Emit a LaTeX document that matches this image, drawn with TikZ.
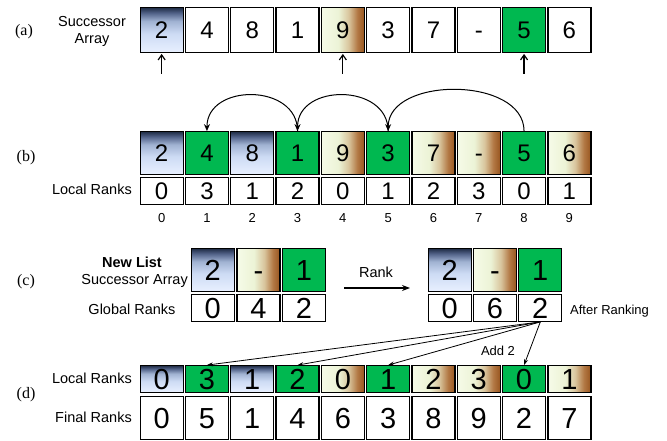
\documentclass[tikz,border=0pt]{standalone}
\usepackage{fontspec}
\setmainfont{Liberation Serif}
\newfontfamily\sansfont{Liberation Sans}
\usetikzlibrary{arrows.meta}

\definecolor{cellgreen}{HTML}{00B850}
\definecolor{bluelo}{HTML}{E8F0FF}
\definecolor{bluemid}{HTML}{CDDBF4}
\definecolor{bluehi}{HTML}{A0B2D2}
\definecolor{bluedk}{HTML}{53648A}
\definecolor{bluetop}{HTML}{212E48}
\definecolor{brownlo}{HTML}{F6FBE8}
\definecolor{brownmid}{HTML}{ECF3D6}
\definecolor{brownhi}{HTML}{D8C49C}
\definecolor{browndk}{HTML}{B27844}
\definecolor{browntop}{HTML}{98561F}

\pgfdeclareverticalshading{blueshade}{100bp}{color(0bp)=(bluelo); color(25bp)=(bluelo); color(46bp)=(bluemid); color(60bp)=(bluehi); color(69bp)=(bluedk); color(75bp)=(bluetop); color(100bp)=(bluetop)}
\pgfdeclarehorizontalshading{brownshade}{100bp}{color(0bp)=(brownlo); color(25bp)=(brownlo); color(45bp)=(brownmid); color(57bp)=(brownhi); color(67bp)=(browndk); color(75bp)=(browntop); color(100bp)=(browntop)}

\begin{document}
\begin{tikzpicture}[x=1pt,y=-1pt,
    cell/.style={draw,line width=1.3pt,minimum width=43pt,inner sep=0pt,text depth=0pt},
    small/.style={font={\sansfont\fontsize{24}{24}\selectfont},text height=17.2pt},
    big/.style={font={\sansfont\fontsize{29}{29}\selectfont},text height=20.8pt},
    tall/.style={minimum height=42.5pt},
    short/.style={minimum height=26.5pt},
    bluecell/.style={shading=blueshade},
    browncell/.style={shading=brownshade},
    greencell/.style={fill=cellgreen},
    whitecell/.style={fill=white},
    tag/.style={font={\fontsize{16}{16}\selectfont}},
    lbl/.style={font={\sansfont\fontsize{14.5}{17}\selectfont},inner sep=0pt},
    note/.style={font={\sansfont\fontsize{13}{13}\selectfont},inner sep=0pt}]
    \useasboundingbox (0,0) rectangle (667,441);

    % (a)
    \node[tag] (taga) at (24,32) {(a)};
    \node[lbl,align=center] (succa) at (92,31) {Successor\\Array};
    \foreach \v/\s [count=\i from 0] in {2/bluecell,4/whitecell,8/whitecell,1/whitecell,9/browncell,3/whitecell,7/whitecell,-/whitecell,5/greencell,6/whitecell}
        \node[cell,small,\s,minimum height=44.5pt] (a\i) at (161.65+45.3*\i,30) {\v};
    \foreach \i in {0,4,8} {
        \coordinate (p\i) at ([yshift=-21pt]a\i.south);
        \draw[-{Straight Barb[length=5pt,width=7pt]},line width=1.2pt] (p\i) -- ([yshift=-1pt]a\i.south);
    }

    % (b)
    \node[tag] (tagb) at (26,158) {(b)};
    \node[lbl,anchor=east] (localb) at (132,189) {Local Ranks};
    \foreach \v/\s/\r [count=\i from 0] in {2/bluecell/0,4/greencell/3,8/bluecell/1,1/greencell/2,9/browncell/0,3/greencell/1,7/browncell/2,-/browncell/3,5/greencell/0,6/browncell/1} {
        \node[cell,small,tall,\s] (b\i) at (161.65+45.3*\i,153) {\v};
        \node[cell,small,short,whitecell] (r\i) at (161.65+45.3*\i,191) {\r};
        \node[note] (i\i) at (161.65+45.3*\i,218) {\i};
    }
    \draw[-{Stealth[length=7pt,width=6pt]},line width=1pt] (b8.north) .. controls +(0,-55) and +(0,-55) .. (b5.north);
    \draw[-{Stealth[length=7pt,width=6pt]},line width=1pt] (b5.north) .. controls +(0,-48) and +(0,-48) .. (b3.north);
    \draw[-{Stealth[length=7pt,width=6pt]},line width=1pt] (b3.north) .. controls +(0,-48) and +(0,-48) .. (b1.north);

    % (c)
    \node[tag] (tagc) at (26,282) {(c)};
    \node[lbl,font={\sansfont\bfseries\fontsize{14.5}{17}\selectfont}] (newlist) at (132,262) {New List};
    \node[lbl,anchor=east] (succc) at (188,281) {Successor Array};
    \node[lbl] (globalc) at (132,309) {Global Ranks};
    \foreach \v/\s/\g/\h [count=\i from 0] in {2/bluecell/0/0,-/browncell/4/6,1/greencell/2/2} {
        \node[cell,big,tall,\s] (cs\i) at (212.8+45.6*\i,270) {\v};
        \node[cell,big,short,whitecell] (cg\i) at (212.8+45.6*\i,308) {\g};
        \node[cell,big,tall,\s] (ns\i) at (449.7+45.3*\i,270) {\v};
        \node[cell,big,short,whitecell] (ng\i) at (449.7+45.3*\i,308) {\h};
    }
    \node[lbl] (rank) at (376,272) {Rank};
    \coordinate (rk1) at (344,288);
    \coordinate (rk2) at (410,288);
    \draw[-{Stealth[length=8pt,width=6pt]},line width=1.2pt] (rk1) -- (rk2);
    \node[note,anchor=west] (after) at (570,311) {After Ranking};

    % (d)
    \node[tag] (tagd) at (26,395) {(d)};
    \node[lbl,anchor=east] (locald) at (132,378) {Local Ranks};
    \node[lbl,anchor=east] (finald) at (132,417) {Final Ranks};
    \foreach \r/\s/\f [count=\i from 0] in {0/bluecell/0,3/greencell/5,1/bluecell/1,2/greencell/4,0/browncell/6,1/greencell/3,2/browncell/8,3/browncell/9,0/greencell/2,1/browncell/7} {
        \node[cell,big,short,\s] (l\i) at (161.65+45.3*\i,379) {\r};
        \node[cell,big,tall,whitecell] (f\i) at (161.65+45.3*\i,418) {\f};
    }
    \foreach \k in {1,3,5,8}
        \draw[-{Stealth[length=6pt,width=4pt]},line width=0.8pt] (ng2.south) -- (l\k.north);
    \node[note] (add) at (498,351) {Add 2};
\end{tikzpicture}
\end{document}
